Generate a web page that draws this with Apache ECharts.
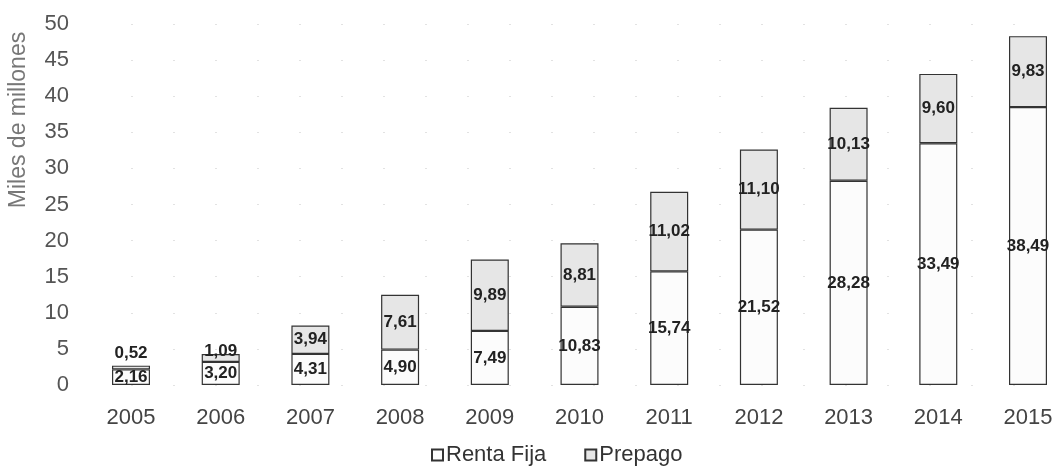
<!DOCTYPE html>
<html>
<head>
<meta charset="utf-8">
<script src="https://cdn.jsdelivr.net/npm/echarts@6/dist/echarts.min.js"></script>
<style>
  html, body { margin: 0; padding: 0; background: #fff; }
  #chart { width: 1057px; height: 475px; }
</style>
</head>
<body>
<div id="chart"></div>
<script>
// data
var years = ['2005', '2006', '2007', '2008', '2009', '2010', '2011', '2012', '2013', '2014', '2015']
var rentaFija = [2.16, 3.20, 4.31, 4.90, 7.49, 10.83, 15.74, 21.52, 28.28, 33.49, 38.49]
var prepago = [0.52, 1.09, 3.94, 7.61, 9.89, 8.81, 11.02, 11.10, 10.13, 9.60, 9.83]
var yTicks = [0, 5, 10, 15, 20, 25, 30, 35, 40, 45, 50]

var font = 'Liberation Sans, Arial, sans-serif'

function fmt(p) {
  return p.value.toFixed(2).replace('.', ',')
}

// small values on the first two bars have their label above the bar
var prepagoData = prepago.map(function (v, i) {
  if (i === 0) return { value: v, label: { position: 'top', distance: 4 } }
  if (i === 1) return { value: v, label: { position: 'top', distance: 0, offset: [0, 6] } }
  return v
})

var chart = echarts.init(document.getElementById('chart'))
chart.setOption({
  animation: false,
  textStyle: { fontFamily: font },
  grid: { left: 131, right: 29, top: 24, bottom: 90 },
  legend: {
    bottom: 4,
    left: 426,
    itemWidth: 11,
    itemHeight: 11,
    itemGap: 38,
    icon: 'rect',
    textStyle: { fontSize: 22, color: '#333', fontFamily: font, padding: [0, 0, 0, -2] },
    data: ['Renta Fija', 'Prepago']
  },
  xAxis: {
    type: 'category',
    data: years,
    boundaryGap: false,
    axisLine: { show: false },
    axisTick: { show: false },
    axisLabel: { fontSize: 22, color: '#444', margin: 22 }
  },
  yAxis: {
    type: 'value',
    min: yTicks[0],
    max: yTicks[yTicks.length - 1],
    interval: 5,
    axisLine: { show: false },
    axisTick: { show: false },
    axisLabel: { fontSize: 22, color: '#555', margin: 62, align: 'right' },
    splitLine: { show: true, lineStyle: { color: '#e2e2e2', type: [2, 40], width: 1 } }
  },
  graphic: [{
    type: 'text',
    x: 19,
    y: 120,
    rotation: Math.PI / 2,
    style: {
      text: 'Miles de millones',
      fontSize: 23,
      fontFamily: font,
      fill: '#777',
      textAlign: 'center',
      textVerticalAlign: 'middle'
    }
  }],
  series: [
    {
      name: 'Renta Fija',
      type: 'bar',
      stack: 'total',
      barWidth: 38,
      clip: false,
      data: rentaFija,
      itemStyle: { color: '#fcfcfc', borderColor: '#333', borderWidth: 1.2 },
      label: {
        show: true,
        position: 'inside',
        formatter: fmt,
        fontSize: 17,
        fontWeight: 'bold',
        color: '#222'
      }
    },
    {
      name: 'Prepago',
      type: 'bar',
      stack: 'total',
      barWidth: 38,
      clip: false,
      data: prepagoData,
      itemStyle: { color: '#e6e6e6', borderColor: '#333', borderWidth: 1.2 },
      label: {
        show: true,
        position: 'inside',
        formatter: fmt,
        fontSize: 17,
        fontWeight: 'bold',
        color: '#222'
      }
    }
  ]
})
</script>
</body>
</html>
